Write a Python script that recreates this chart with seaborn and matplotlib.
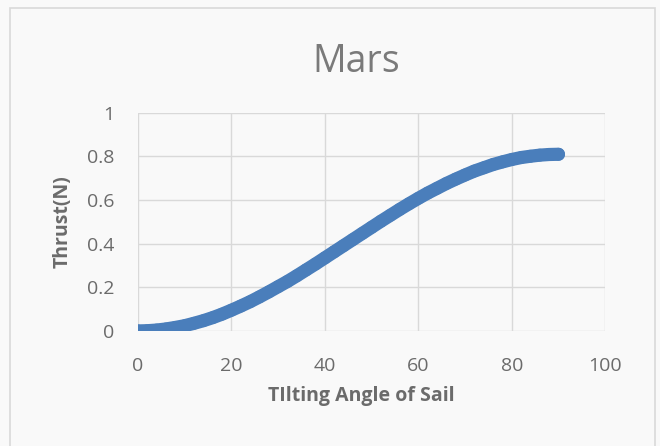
import matplotlib
matplotlib.use("Agg")
import matplotlib.pyplot as plt
import seaborn as sns
import pandas as pd
from matplotlib.patches import Rectangle

# values, every 2 degrees
angle = list(range(0, 92, 2))
thrust = [0.000, 0.001, 0.004, 0.009, 0.016, 0.024, 0.035, 0.047, 0.061, 0.077,
          0.095, 0.114, 0.134, 0.156, 0.179, 0.203, 0.227, 0.253, 0.280, 0.307,
          0.335, 0.363, 0.391, 0.419, 0.447, 0.475, 0.503, 0.530, 0.557, 0.583,
          0.608, 0.632, 0.654, 0.676, 0.696, 0.715, 0.733, 0.748, 0.763, 0.775,
          0.786, 0.795, 0.801, 0.806, 0.809, 0.810]
xticks = [0, 20, 40, 60, 80, 100]
yticks = [0, 0.2, 0.4, 0.6, 0.8, 1]
ytick_labels = ['0', '0.2', '0.4', '0.6', '0.8', '1']

df = pd.DataFrame({'angle': angle, 'thrust': thrust})

sns.set_style('white')
plt.rcParams['font.family'] = ['Open Sans', 'DejaVu Sans']

fig = plt.figure(figsize=(6.6, 4.46), dpi=100, facecolor='#f9f9f9')
fig.patches.append(Rectangle((10 / 660, -0.05), 645 / 660, 1.05 - 8 / 446, transform=fig.transFigure,
                             fill=False, edgecolor='#d9d9d9', linewidth=1.2))
ax = fig.add_axes([0.209, 0.258, 0.708, 0.489])
ax.set_facecolor('none')

# thick line underneath plus markers to mimic the dense Excel series
ax.plot(df['angle'], df['thrust'], color='#4a7ebb', linewidth=9.5, solid_capstyle='round', zorder=3)
sns.scatterplot(data=df, x='angle', y='thrust', ax=ax, s=85, color='#4a7ebb',
                edgecolor='none', zorder=4, legend=False)

ax.set_xlim(0, 100)
ax.set_ylim(0, 1)
ax.set_xticks(xticks)
ax.set_yticks(yticks)
ax.set_yticklabels(ytick_labels)
ax.grid(True, color='#d9d9d9', linewidth=1)
ax.set_axisbelow(True)
for s in ax.spines.values():
    s.set_visible(False)
ax.tick_params(axis='both', length=0, labelsize=14, labelcolor='#6b6b6b')
ax.tick_params(axis='x', pad=18.5)
ax.tick_params(axis='y', pad=17)
ax.set_xlabel('TIlting Angle of Sail', fontsize=14, fontweight='bold', color='#6b6b6b')
ax.set_ylabel('Thrust(N)', fontsize=14, fontweight='bold', color='#6b6b6b')
ax.xaxis.set_label_coords(0.478, -0.252)
ax.yaxis.set_label_coords(-0.139, 0.5)
fig.text(0.54, 0.862, 'Mars', ha='center', va='center', fontsize=27, color='#7a7a7a')

fig.savefig('out.png', dpi=100, facecolor=fig.get_facecolor())
